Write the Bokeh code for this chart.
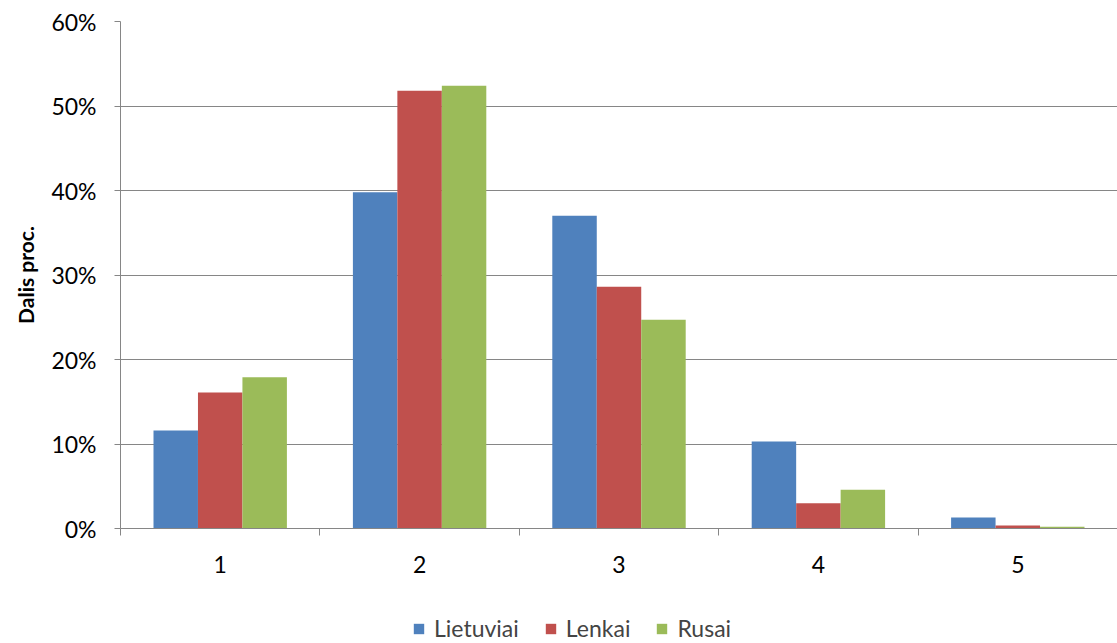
from bokeh.plotting import figure
from bokeh.layouts import column
from bokeh.models import (ColumnDataSource, FixedTicker, PrintfTickFormatter, Range1d,
                          Legend, LegendItem)
from bokeh.embed import file_html
from bokeh.resources import INLINE

categories = ["1", "2", "3", "4", "5"]
series_names = ["Lietuviai", "Lenkai", "Rusai"]
lietuviai = [11.6, 39.8, 37.0, 10.3, 1.3]
lenkai = [16.1, 51.8, 28.6, 3.0, 0.35]
rusai = [17.9, 52.4, 24.7, 4.6, 0.2]
colors = ["#4F81BD", "#C0504D", "#9BBB59"]
y_ticks = [0, 10, 20, 30, 40, 50, 60]

FONT = "Lato"

p = figure(frame_width=997, frame_height=507, output_backend="svg", toolbar_location=None,
           x_range=Range1d(0.5, 5.5), y_range=Range1d(0, 60),
           min_border_left=120, min_border_top=21, min_border_right=0, min_border_bottom=84)
p.outline_line_color = None

bw = 0.223
xs = list(range(1, len(categories) + 1))
for k, (name, vals, col) in enumerate(zip(series_names, [lietuviai, lenkai, rusai], colors)):
    src = ColumnDataSource(dict(x=[x + (k - 1) * bw for x in xs], top=vals))
    p.vbar(x="x", top="top", width=bw, bottom=0, source=src,
           fill_color=col, line_color=None)

# y axis
p.yaxis.ticker = FixedTicker(ticks=y_ticks)
p.yaxis.formatter = PrintfTickFormatter(format="%d%%")
p.yaxis.axis_label = "Dalis proc."
p.yaxis.axis_label_text_font = FONT
p.yaxis.axis_label_text_font_style = "bold"
p.yaxis.axis_label_text_font_size = "21px"
p.yaxis.axis_label_text_color = "#000000"
p.yaxis.axis_label_standoff = 10
p.yaxis.major_label_text_font = FONT
p.yaxis.major_label_text_font_size = "23px"
p.yaxis.major_label_text_color = "#000000"
p.yaxis.major_label_standoff = 18
p.yaxis.major_tick_out = 6
p.yaxis.major_tick_in = 0
p.yaxis.minor_tick_line_color = None
p.yaxis.axis_line_color = "#868686"
p.yaxis.major_tick_line_color = "#868686"

# x axis
p.xaxis.ticker = FixedTicker(ticks=xs, minor_ticks=[x - 0.5 for x in xs] + [5.5])
p.xaxis.major_label_overrides = {x: c for x, c in zip(xs, categories)}
p.xaxis.major_label_text_font = FONT
p.xaxis.major_label_text_font_size = "23px"
p.xaxis.major_label_text_color = "#000000"
p.xaxis.major_tick_out = 0
p.xaxis.major_tick_in = 0
p.xaxis.major_tick_line_color = None
p.xaxis.minor_tick_out = 7
p.xaxis.minor_tick_in = 0
p.xaxis.minor_tick_line_color = "#868686"
p.xaxis.major_label_standoff = 20
p.xaxis.axis_line_color = "#868686"

p.xgrid.grid_line_color = None
p.ygrid.grid_line_color = "#868686"
p.ygrid.ticker = FixedTicker(ticks=y_ticks)

# legend in its own strip below the chart (swatch renderers have zero size, so draw nothing)
lg = figure(width=1117, height=30, output_backend="svg", toolbar_location=None,
            x_range=Range1d(0, 1), y_range=Range1d(0, 1),
            x_axis_type=None, y_axis_type=None,
            min_border_left=0, min_border_right=0, min_border_top=0, min_border_bottom=0)
lg.outline_line_color = None
lg.xgrid.grid_line_color = None
lg.ygrid.grid_line_color = None
items = []
for name, col in zip(series_names, colors):
    r = lg.vbar(x=[0.5], bottom=[0.5], top=[0.5], width=0, fill_color=col, line_color=None)
    items.append(LegendItem(label=name, renderers=[r]))
legend = Legend(items=items, orientation="horizontal", location=(292, 0),
                label_text_font=FONT, label_text_font_size="23px",
                glyph_width=13, glyph_height=13, label_standoff=9, spacing=25,
                border_line_color=None, background_fill_alpha=0, padding=0, margin=0)
lg.add_layout(legend, "center")

layout = column(p, lg, spacing=0)
open("out.html", "w").write(file_html(layout, INLINE))
